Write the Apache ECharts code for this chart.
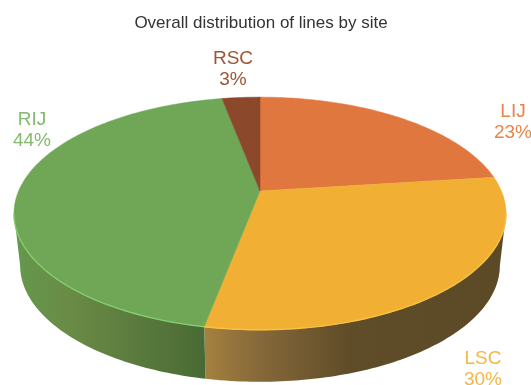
<!DOCTYPE html>
<html>
<head>
<meta charset="utf-8">
<style>html,body{margin:0;padding:0;background:#fff}#chart{width:531px;height:385px}</style>
<script src="https://cdn.jsdelivr.net/npm/echarts@6/dist/echarts.min.js"></script>
</head>
<body>
<div id="chart"></div>
<script>
// Share of lines per insertion site, clockwise from twelve o'clock
const sites = ['LIJ', 'LSC', 'RIJ', 'RSC'];
const sharePercent = [23, 30, 44, 3];

const topColors = ['#e0773f', '#f1b033', '#6fa756', '#8b482b'];
const labelColors = ['#e8854e', '#f3b746', '#84b96f', '#9c5535'];
const rimColors = ['#e0773f', '#f8c140', '#84cc6e', '#8b482b'];
const labelAnchors = [[513, 122], [483, 369], [32, 130], [233, 69]];
const wallStops = [
  null,
  [[0, '#a4813f'], [0.18, '#86693a'], [0.48, '#5f4c28'], [1, '#5c4a27']],
  [[0, '#64984d'], [0.3, '#6a8b45'], [0.6, '#5c7d3e'], [1, '#4a6a35']],
  null
];

// Perspective disc: centre, radii and the foreshortening of the near edge
const disc = { x: 260, y: 191, rx: 241.4, ry: 112, tilt: 0.193, depth: 52, baseScale: 0.975 };

function project(deg, lowered) {
  const a = deg * Math.PI / 180;
  const u = Math.sin(a), v = -Math.cos(a);
  const w = 1 - disc.tilt * v;
  const s = lowered ? disc.baseScale : 1;
  return [disc.x + s * disc.rx * u / w, disc.y + (lowered ? disc.depth : 0) + disc.ry * v / w];
}

function arc(from, to, lowered) {
  const pts = [];
  const n = Math.max(2, Math.ceil(Math.abs(to - from)));
  for (let i = 0; i <= n; i++) pts.push(project(from + (to - from) * i / n, lowered));
  return pts;
}

const total = sharePercent.reduce((a, b) => a + b, 0);
// Angles where the disc's silhouette turns from front wall to back
const frontStart = Math.acos(-disc.tilt) * 180 / Math.PI;
const frontEnd = 360 - frontStart;

function renderSlice(params, api) {
  const i = params.dataIndex;
  let before = 0;
  for (let k = 0; k < i; k++) before += sharePercent[k];
  const start = before / total * 360;
  const end = start + api.value(0) / total * 360;
  const children = [];

  const wallFrom = Math.max(start, frontStart);
  const wallTo = Math.min(end, frontEnd);
  if (wallTo > wallFrom && wallStops[i]) {
    const topEdge = arc(wallFrom, wallTo, false);
    const baseEdge = arc(wallFrom, wallTo, true).reverse();
    const xs = topEdge.map(p => p[0]);
    const colorStops = wallStops[i].map(s => ({ offset: s[0], color: s[1] }));
    children.push({
      type: 'polygon',
      z2: 1,
      shape: { points: topEdge.concat(baseEdge) },
      style: {
        fill: {
          type: 'linear', global: true,
          x: Math.min(...xs), y: 0, x2: Math.max(...xs), y2: 0,
          colorStops
        }
      }
    });
    children.push({
      type: 'polyline',
      z2: 3,
      shape: { points: topEdge },
      style: { fill: null, stroke: rimColors[i], lineWidth: 1.4 }
    });
  }

  children.push({
    type: 'polygon',
    z2: 2,
    shape: { points: [[disc.x, disc.y]].concat(arc(start, end, false)) },
    style: { fill: topColors[i], stroke: topColors[i], lineWidth: 0.5 }
  });

  children.push({
    type: 'text',
    z2: 5,
    x: labelAnchors[i][0],
    y: labelAnchors[i][1],
    style: {
      text: sites[i] + '\n' + api.value(0) + '%',
      fill: labelColors[i],
      font: '19px "Liberation Sans", Arial, sans-serif',
      lineHeight: 21,
      align: 'center',
      verticalAlign: 'middle'
    }
  });
  return { type: 'group', children };
}

const chart = echarts.init(document.getElementById('chart'), null, { renderer: 'canvas' });
chart.setOption({
  animation: false,
  backgroundColor: '#ffffff',
  title: {
    text: 'Overall distribution of lines by site',
    left: 256,
    top: 10,
    textAlign: 'center',
    textStyle: { fontFamily: '"Liberation Sans", Arial, sans-serif', fontSize: 17, fontWeight: 'normal', color: '#333333' }
  },
  series: [{
    type: 'custom',
    coordinateSystem: 'none',
    silent: true,
    clip: false,
    data: sharePercent.map((v, i) => ({ name: sites[i], value: [v] })),
    renderItem: renderSlice
  }]
});
</script>
</body>
</html>
